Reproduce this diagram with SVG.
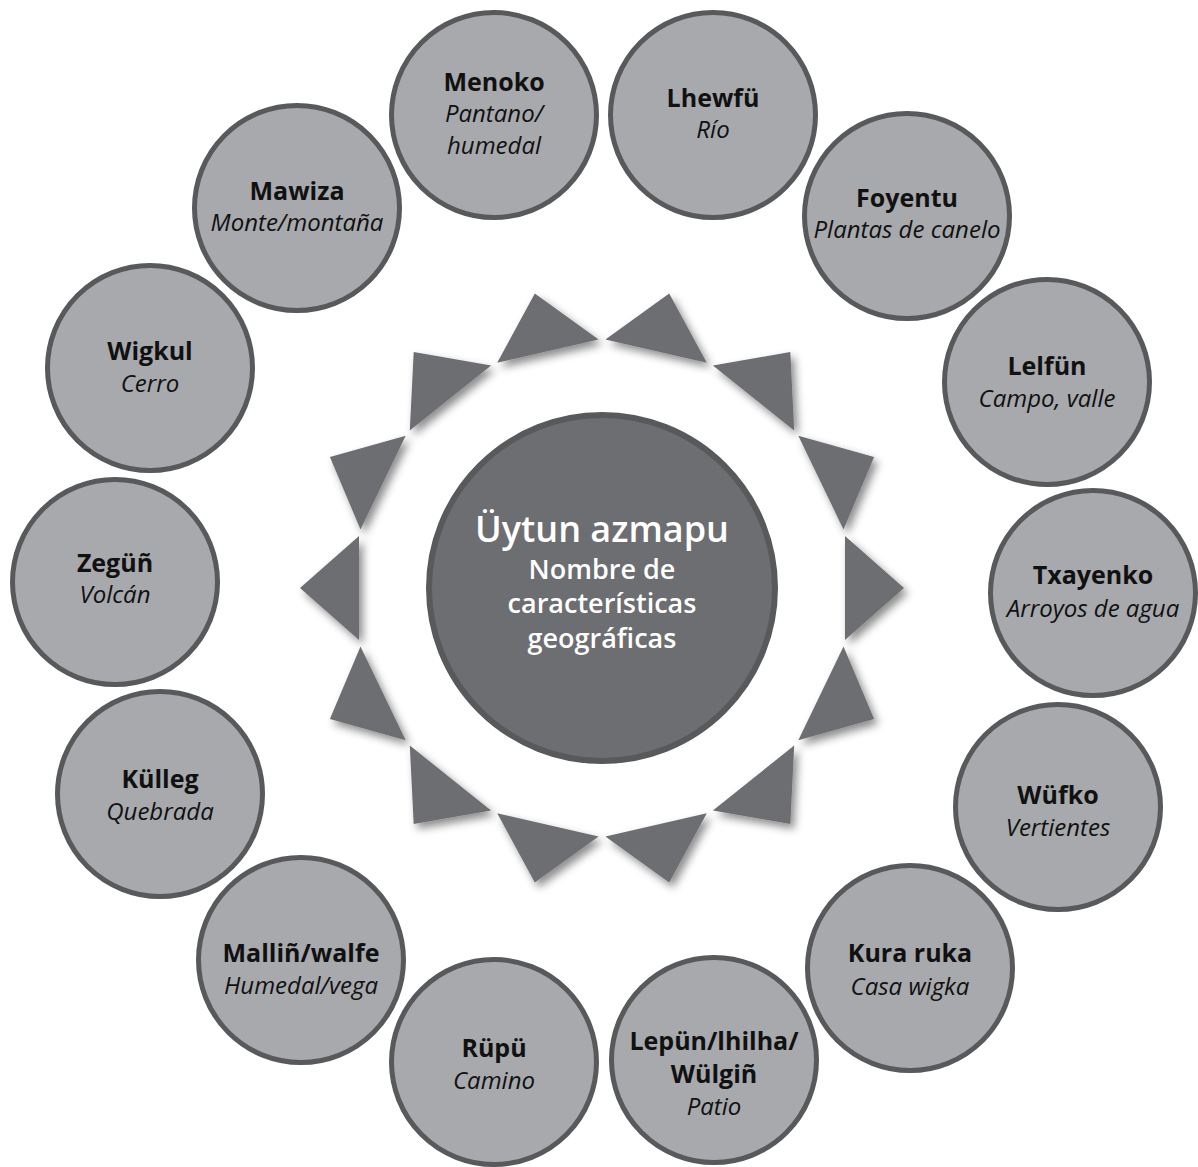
<svg xmlns="http://www.w3.org/2000/svg" width="1198" height="1167" viewBox="0 0 1198 1167">
<defs>
<filter id="sh" x="-30%" y="-30%" width="160%" height="160%">
<feDropShadow dx="4" dy="5" stdDeviation="4" flood-color="#000" flood-opacity="0.45"/>
</filter>
<style>
.node{fill:#a7a9ac;stroke:#58595b;stroke-width:5}
.ray{fill:#6d6e71}
.t{font-family:"Open Sans","Liberation Sans",sans-serif;text-anchor:middle;fill:#111}
.b{font-weight:700;font-size:25px}
.i{font-style:italic;font-size:24px}
.c{font-family:"Open Sans","Liberation Sans",sans-serif;text-anchor:middle;fill:#fff;font-weight:600}
</style>
</defs>
<rect width="1198" height="1167" fill="#fff"/>
<g id="rays" filter="url(#sh)">
<polygon class="ray" points="669.2,293.6 706.8,362.7 605.4,339.5"/>
<polygon class="ray" points="790.3,351.9 794.2,430.4 712.9,365.6"/>
<polygon class="ray" points="874.1,457.0 843.5,529.4 798.3,435.7"/>
<polygon class="ray" points="904,588 845,640 845,536"/>
<polygon class="ray" points="874.1,719.0 798.3,740.3 843.5,646.6"/>
<polygon class="ray" points="790.3,824.1 712.9,810.4 794.2,745.6"/>
<polygon class="ray" points="669.2,882.4 605.4,836.5 706.8,813.3"/>
<polygon class="ray" points="534.8,882.4 598.6,836.5 497.2,813.3"/>
<polygon class="ray" points="413.7,824.1 491.1,810.4 409.8,745.6"/>
<polygon class="ray" points="329.9,719.0 405.7,740.3 360.5,646.6"/>
<polygon class="ray" points="300,588 359,640 359,536"/>
<polygon class="ray" points="329.9,457.0 360.5,529.4 405.7,435.7"/>
<polygon class="ray" points="413.7,351.9 409.8,430.4 491.1,365.6"/>
<polygon class="ray" points="534.8,293.6 497.2,362.7 598.6,339.5"/>
</g>
<g id="center">
<circle cx="602" cy="588" r="173" fill="#6d6e71" stroke="#58595b" stroke-width="6"/>
<text class="c" x="602" y="542" font-size="36">Üytun azmapu</text>
<text class="c" x="602" y="579" font-size="27">Nombre de</text>
<text class="c" x="602" y="613" font-size="27">características</text>
<text class="c" x="602" y="648" font-size="27">geográficas</text>
</g>
<g id="menoko"><circle class="node" cx="494" cy="115" r="102.5"/><text class="t b" x="494" y="91">Menoko</text><text class="t i" x="494" y="122">Pantano/</text><text class="t i" x="494" y="154">humedal</text></g>
<g id="lhewfu"><circle class="node" cx="713" cy="115" r="102.5"/><text class="t b" x="713" y="107">Lhewfü</text><text class="t i" x="713" y="138">Río</text></g>
<g id="foyentu"><circle class="node" cx="907" cy="216" r="102.5"/><text class="t b" x="907" y="207">Foyentu</text><text class="t i" x="907" y="238">Plantas de canelo</text></g>
<g id="lelfun"><circle class="node" cx="1047" cy="382" r="102.5"/><text class="t b" x="1047" y="375">Lelfün</text><text class="t i" x="1047" y="407">Campo, valle</text></g>
<g id="txayenko"><circle class="node" cx="1093" cy="593" r="102.5"/><text class="t b" x="1093" y="584">Txayenko</text><text class="t i" x="1093" y="617">Arroyos de agua</text></g>
<g id="wufko"><circle class="node" cx="1058" cy="807" r="102.5"/><text class="t b" x="1058" y="804">Wüfko</text><text class="t i" x="1058" y="836">Vertientes</text></g>
<g id="kuraruka"><circle class="node" cx="910" cy="968" r="102.5"/><text class="t b" x="910" y="962">Kura ruka</text><text class="t i" x="910" y="995">Casa wigka</text></g>
<g id="lepun"><circle class="node" cx="714" cy="1060" r="102.5"/><text class="t b" x="714" y="1050">Lepün/lhilha/</text><text class="t b" x="714" y="1083">Wülgiñ</text><text class="t i" x="714" y="1115">Patio</text></g>
<g id="rupu"><circle class="node" cx="494" cy="1062" r="102.5"/><text class="t b" x="494" y="1057">Rüpü</text><text class="t i" x="494" y="1089">Camino</text></g>
<g id="mallin"><circle class="node" cx="301" cy="960" r="102.5"/><text class="t b" x="301" y="962">Malliñ/walfe</text><text class="t i" x="301" y="994">Humedal/vega</text></g>
<g id="kulleg"><circle class="node" cx="160" cy="794" r="102.5"/><text class="t b" x="160" y="788">Külleg</text><text class="t i" x="160" y="820">Quebrada</text></g>
<g id="zegun"><circle class="node" cx="115" cy="582" r="102.5"/><text class="t b" x="115" y="572">Zegüñ</text><text class="t i" x="115" y="603">Volcán</text></g>
<g id="wigkul"><circle class="node" cx="150" cy="368" r="102.5"/><text class="t b" x="150" y="360">Wigkul</text><text class="t i" x="150" y="392">Cerro</text></g>
<g id="mawiza"><circle class="node" cx="297" cy="208" r="102.5"/><text class="t b" x="297" y="200">Mawiza</text><text class="t i" x="297" y="231">Monte/montaña</text></g>
</svg>
